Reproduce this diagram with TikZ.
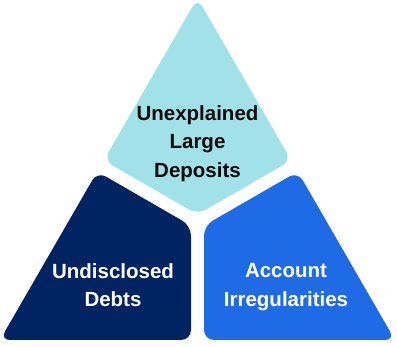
\documentclass[tikz,border=0pt]{standalone}
\usepackage{fontspec}
\setmainfont{Liberation Sans}
\usepackage{xcolor}
\usepackage{tikz}
\usetikzlibrary{positioning, calc}
\definecolor{RiskCyan}{RGB}{161, 226, 233}
\definecolor{RiskNavy}{RGB}{0, 36, 98}
\definecolor{RiskBlue}{RGB}{31, 107, 229}
\definecolor{RiskInk}{RGB}{10, 10, 10}

\tikzset{
  segment/.style={rounded corners=10pt, line join=round},
  segtext/.style={align=center, inner sep=0pt,
    font=\fontsize{20.5}{28.4}\selectfont\bfseries}
}

\begin{document}
\begin{tikzpicture}[x=1pt, y=-1pt]
    \useasboundingbox (0,0) rectangle (397,347);
    % top piece
    \fill[segment, RiskCyan] (197.5,-2) -- (291.25,160.4) -- (197.5,214.5)
      -- (103.75,160.4) -- cycle;
    % lower left piece
    \fill[segment, RiskNavy] (97.25,171.6) -- (191,225.7) -- (191,340)
      -- (0,340) -- cycle;
    % lower right piece
    \fill[segment, RiskBlue] (297.75,171.6) -- (395,340) -- (204,340)
      -- (204,225.7) -- cycle;

    \node[segtext, text=RiskInk] (deposits) at (197.5,143.6)
      {Unexplained\\Large\\Deposits};
    \node[segtext, text=white] (debts) at (113,285)
      {Undisclosed\\Debts};
    \node[segtext, text=white] (irregular) at (286,287.2)
      {Account\\Irregularities};
  \end{tikzpicture}
\end{document}
